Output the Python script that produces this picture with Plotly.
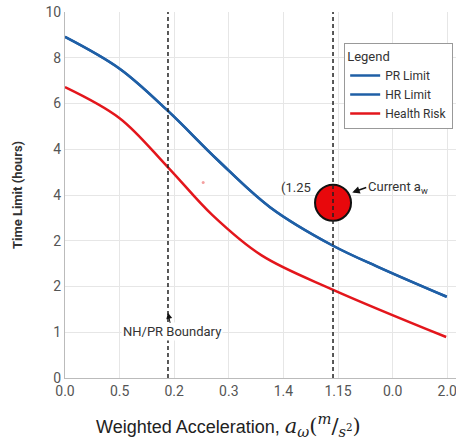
import plotly.graph_objects as go

# ---- data (axis-index coordinates) ----
x_tick_text = ["0.0", "0.5", "0.2", "0.3", "1.4", "1.15", "0.0", "2.0"]
y_tick_text = ["0", "1", "2", "2", "4", "4", "6", "8", "10"]

pr_x = [0.0, 1.0, 1.89, 2.8, 3.76, 4.9, 5.77, 6.99]
pr_y = [9.32, 8.45, 7.29, 5.95, 4.66, 3.62, 3.01, 2.22]
hr_x = pr_x
hr_y = pr_y
risk_x = [0.0, 1.0, 1.89, 2.7, 3.6, 4.91, 6.98]
risk_y = [7.95, 7.10, 5.75, 4.45, 3.35, 2.41, 1.12]

boundary_x = [1.886, 4.908]
current_x = [4.908]
current_y = [4.79]
stray_x = [2.53]
stray_y = [5.34]

blue = "#1f5fa6"
red = "#e3161c"

fig = go.Figure()
fig.add_trace(go.Scatter(x=pr_x, y=pr_y, mode="lines", name="PR Limit",
                         line=dict(color=blue, width=2.5, shape="spline", smoothing=1.0)))
fig.add_trace(go.Scatter(x=hr_x, y=hr_y, mode="lines", name="HR Limit",
                         line=dict(color=blue, width=2.5, shape="spline", smoothing=1.0)))
fig.add_trace(go.Scatter(x=risk_x, y=risk_y, mode="lines", name="Health Risk",
                         line=dict(color=red, width=2.5, shape="spline", smoothing=1.0)))
fig.add_trace(go.Scatter(x=stray_x, y=stray_y, mode="markers", showlegend=False,
                         marker=dict(color="#f4a0a0", size=3)))

for bx in boundary_x:
    fig.add_shape(type="line", x0=bx, x1=bx, y0=0, y1=10, xref="x", yref="y",
                  line=dict(color="#222222", width=1.5, dash="4px,3px"))

fig.add_trace(go.Scatter(x=current_x, y=current_y, mode="markers", showlegend=False,
                         marker=dict(color="#e8080c", size=36,
                                     line=dict(color="#111111", width=2))))

fig.add_annotation(x=4.55, y=5.2, text="(1.25", showarrow=False, xanchor="right",
                   font=dict(family="Roboto", size=13, color="#333333"))
fig.add_annotation(x=5.26, y=5.07, text="Current a<sub>w</sub>", showarrow=True,
                   ax=14, ay=-5, xanchor="left", arrowhead=2, arrowsize=1,
                   arrowwidth=1.5, arrowcolor="#111111", standoff=0,
                   font=dict(family="Roboto", size=13, color="#333333"))
fig.add_annotation(x=1.886, y=1.78, text="NH/PR Boundary", showarrow=True,
                   ax=4, ay=19, arrowhead=2, arrowsize=1.2, arrowwidth=1,
                   arrowcolor="#111111", bgcolor="white",
                   font=dict(family="Roboto", size=13, color="#333333"))

math_style = "font-family:'DejaVu Serif';font-size:21px;"
x_title = ("Weighted Acceleration, "
           f"<span style=\"{math_style}\"><i>a<sub>ω</sub></i>(<sup><i>m</i></sup>/<sub><i>s</i><sup>2</sup></sub>)</span>")
fig.add_annotation(xref="paper", yref="paper", x=0.417, y=-0.128, yanchor="middle",
                   text=x_title, showarrow=False,
                   font=dict(family="Liberation Sans", size=18, color="#222222"))

fig.update_xaxes(range=[0, 7.16], tickvals=list(range(len(x_tick_text))),
                 ticktext=x_tick_text, showgrid=True, gridcolor="#e6e6e6",
                 showline=True, linecolor="#bbbbbb", zeroline=False, automargin=False,
                 ticklabeloverflow="allow",
                 tickfont=dict(family="Roboto", size=14, color="#555555"))
fig.update_yaxes(range=[0, 10], tickvals=[i * 1.25 for i in range(len(y_tick_text))],
                 ticktext=y_tick_text, showgrid=True, gridcolor="#e6e6e6",
                 showline=True, linecolor="#bbbbbb", zeroline=False, automargin=False,
                 ticklabeloverflow="allow",
                 tickfont=dict(family="Roboto", size=14, color="#555555"),
                 title=dict(text="<b>Time Limit (hours)</b>",
                            font=dict(family="Roboto", size=13, color="#333333"),
                            standoff=19))

fig.update_layout(
    width=456, height=443,
    margin=dict(l=65, r=0, t=12, b=65),
    plot_bgcolor="white", paper_bgcolor="white",
    hovermode=False,
    legend=dict(x=0.714, y=0.915, xanchor="left", yanchor="top",
                title=dict(text="Legend", font=dict(family="Roboto", size=13, color="#333333")),
                font=dict(family="Roboto", size=12, color="#333333"),
                bordercolor="#999999", borderwidth=1, bgcolor="white",
                tracegroupgap=0, itemwidth=30),
)

fig.write_html("out.html", config={"displayModeBar": False, "staticPlot": True},
               post_script="document.body.style.margin='0px';document.body.style.overflow='hidden';")
